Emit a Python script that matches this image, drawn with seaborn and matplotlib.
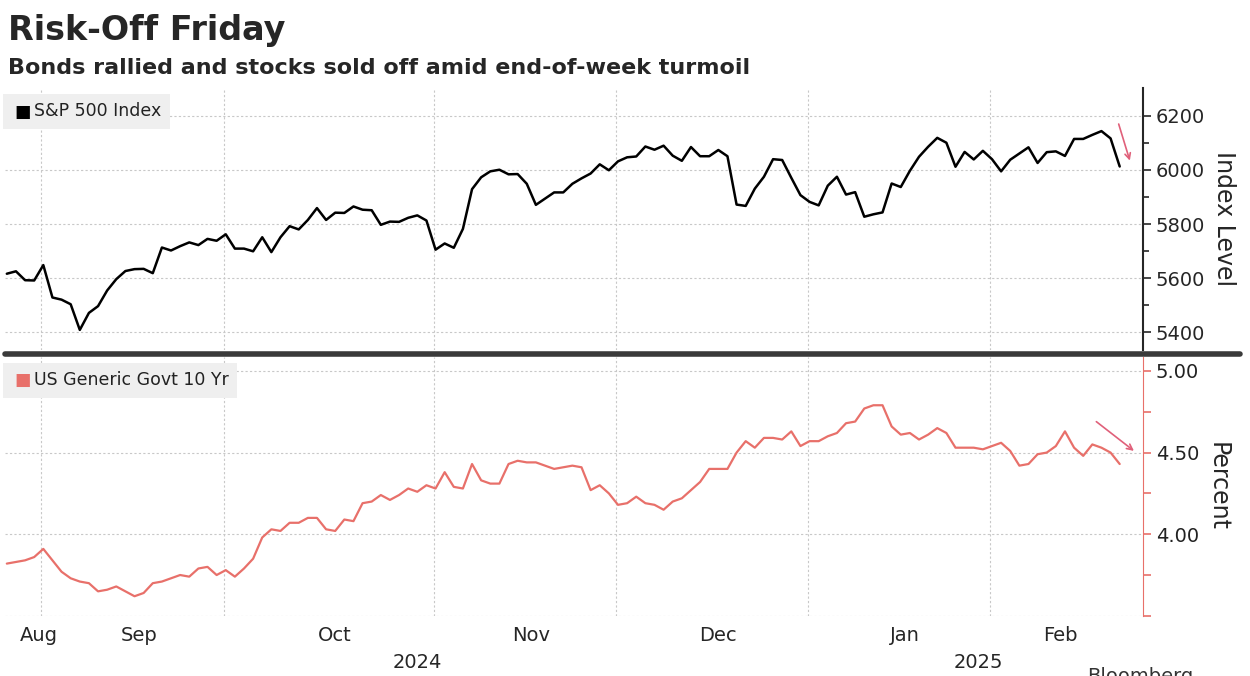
import pandas as pd
import numpy as np
import matplotlib
matplotlib.use("Agg")
import matplotlib.pyplot as plt
import seaborn as sns

holidays = ["2024-09-02", "2024-11-28", "2024-12-25", "2025-01-01",
            "2025-01-09", "2025-01-20", "2025-02-17"]
dates = pd.bdate_range("2024-08-26", "2025-02-21", freq="C", holidays=holidays)

spx = [5616, 5625, 5592, 5591, 5648, 5528, 5520, 5503, 5408, 5471, 5496, 5554, 5596, 5626,
       5633, 5634, 5618, 5713, 5702, 5718, 5732, 5722, 5745, 5738, 5762, 5709, 5709, 5699,
       5751, 5696, 5751, 5792, 5780, 5815, 5859, 5815, 5842, 5841, 5865, 5853, 5851, 5797,
       5809, 5808, 5823, 5832, 5813, 5705, 5728, 5712, 5782, 5929, 5973, 5995, 6001, 5984,
       5985, 5949, 5871, 5894, 5917, 5917, 5949, 5969, 5987, 6021, 5999, 6032, 6047, 6050,
       6087, 6075, 6090, 6053, 6034, 6085, 6051, 6051, 6074, 6051, 5872, 5867, 5931, 5975,
       6040, 6037, 5971, 5907, 5882, 5869, 5942, 5975, 5909, 5918, 5827, 5836, 5843, 5950,
       5937, 5997, 6049, 6086, 6119, 6101, 6012, 6067, 6039, 6071, 6040, 5995, 6038, 6061,
       6084, 6026, 6066, 6069, 6052, 6115, 6115, 6130, 6144, 6117, 6013]
ust10 = [3.82, 3.83, 3.84, 3.86, 3.91, 3.84, 3.77, 3.73, 3.71, 3.70, 3.65, 3.66, 3.68, 3.65,
         3.62, 3.64, 3.70, 3.71, 3.73, 3.75, 3.74, 3.79, 3.80, 3.75, 3.78, 3.74, 3.79, 3.85,
         3.98, 4.03, 4.02, 4.07, 4.07, 4.10, 4.10, 4.03, 4.02, 4.09, 4.08, 4.19, 4.20, 4.24,
         4.21, 4.24, 4.28, 4.26, 4.30, 4.28, 4.38, 4.29, 4.28, 4.43, 4.33, 4.31, 4.31, 4.43,
         4.45, 4.44, 4.44, 4.42, 4.40, 4.41, 4.42, 4.41, 4.27, 4.30, 4.25, 4.18, 4.19, 4.23,
         4.19, 4.18, 4.15, 4.20, 4.22, 4.27, 4.32, 4.40, 4.40, 4.40, 4.50, 4.57, 4.53, 4.59,
         4.59, 4.58, 4.63, 4.54, 4.57, 4.57, 4.60, 4.62, 4.68, 4.69, 4.77, 4.79, 4.79, 4.66,
         4.61, 4.62, 4.58, 4.61, 4.65, 4.62, 4.53, 4.53, 4.53, 4.52, 4.54, 4.56, 4.51, 4.42,
         4.43, 4.49, 4.50, 4.54, 4.63, 4.53, 4.48, 4.55, 4.53, 4.50, 4.43]
n = min(len(dates), len(spx), len(ust10))
df = pd.DataFrame({"i": np.arange(n), "date": dates[:n], "spx": spx[:n], "ust": ust10[:n]})

month_labels = ["Aug", "Sep", "Oct", "Nov", "Dec", "Jan", "Feb"]
year_labels = ["2024", "2025"]

sns.set_style("white")
plt.rcParams["font.family"] = ["DejaVu Sans"]
red = "#e8706a"
grid_kw = dict(color="#c8c8c8", linestyle=(0, (2, 2)), linewidth=0.8)

fig = plt.figure(figsize=(12.5, 6.76), dpi=100)
ax1 = fig.add_axes([0.004, 0.482, 0.91, 0.388])
ax2 = fig.add_axes([0.004, 0.089, 0.91, 0.383])

month_start = df.groupby(df.date.dt.to_period("M"))["i"].min()
month_mid = df.groupby(df.date.dt.to_period("M"))["i"].median()
xmin, xmax = -0.2, n - 1 + 2.5

for ax in (ax1, ax2):
    for s in ["top", "left", "bottom"]:
        ax.spines[s].set_visible(False)
    ax.yaxis.tick_right()
    ax.yaxis.set_label_position("right")
    ax.set_xlim(xmin, xmax)
    for m in month_start.values[1:]:
        ax.axvline(m - 1.2, **grid_kw, zorder=0)
    ax.set_xticks([])
    ax.tick_params(axis="y", labelsize=14, direction="out", length=6, width=1.2)

sns.lineplot(data=df, x="i", y="spx", ax=ax1, color="black", linewidth=1.8)
ax1.set_ylim(5333, 6304)
ax1.set_yticks([5400, 5600, 5800, 6000, 6200])
ax1.set_yticks([5500, 5700, 5900, 6100], minor=True)
ax1.tick_params(axis="y", which="minor", length=4, width=1.2, right=True)
for v in [5400, 5600, 5800, 6000, 6200]:
    ax1.axhline(v, **grid_kw, zorder=0)
ax1.spines["right"].set_linewidth(1.5)
ax1.set_ylabel("Index Level", fontsize=17, rotation=-90, labelpad=22)
ax1.set_xlabel("")

sns.lineplot(data=df, x="i", y="ust", ax=ax2, color=red, linewidth=1.6)
ax2.set_ylim(3.5, 5.086)
ax2.set_yticks([3.5, 3.75, 4.0, 4.25, 4.5, 4.75, 5.0])
ax2.set_yticklabels(["", "", "4.00", "", "4.50", "", "5.00"])
ax2.tick_params(axis="y", colors=red, labelcolor="#222222")
ax2.spines["right"].set_color(red)
for v in [3.5, 4.0, 4.5, 5.0]:
    ax2.axhline(v, **grid_kw, zorder=0)
ax2.set_ylabel("Percent", fontsize=17, rotation=-90, labelpad=22)
ax2.set_xlabel("")

for lab, pos in zip(month_labels, month_mid.values):
    p = max(pos, 3.5)
    ax2.text(p, -0.04, lab, transform=ax2.get_xaxis_transform(), ha="center", va="top", fontsize=14)
yr = df.date.dt.year
for lab in year_labels:
    sel = df.i[yr == int(lab)]
    ax2.text((sel.min() + sel.max() + 2) / 2, -0.145, lab, transform=ax2.get_xaxis_transform(),
             ha="center", va="top", fontsize=14)

# legend boxes: grey box with label, coloured square drawn on top
for ax, lab, col in [(ax1, "S&P 500 Index", "black"), (ax2, "US Generic Govt 10 Yr", red)]:
    ax.text(0.006, 0.91, "    " + lab, transform=ax.transAxes, fontsize=12.5, va="center",
            color="#222222", bbox=dict(boxstyle="square,pad=0.5", fc="#efefef", ec="none"))
    ax.text(0.008, 0.91, "\u25A0", transform=ax.transAxes, fontsize=12.5, va="center", color=col)

ax1.annotate("", xy=(n + 0.2, 6025), xytext=(n - 1.2, 6180),
             arrowprops=dict(arrowstyle="->", color="#e0607a", lw=1.2))
ax2.annotate("", xy=(n + 0.8, 4.50), xytext=(n - 3.8, 4.70),
             arrowprops=dict(arrowstyle="->", color="#e0607a", lw=1.2))

fig.add_artist(plt.Line2D([0.004, 0.992], [0.477, 0.477], color="#3a3a3a", linewidth=4))

fig.text(0.006, 0.955, "Risk-Off Friday", fontsize=24, fontweight="bold", va="center")
fig.text(0.006, 0.9, "Bonds rallied and stocks sold off amid end-of-week turmoil",
         fontsize=16, fontweight="bold", va="center")
fig.text(0.87, 0.0, "Bloomberg", fontsize=14, color="#333333", va="center")

fig.savefig("out.png", dpi=100)
